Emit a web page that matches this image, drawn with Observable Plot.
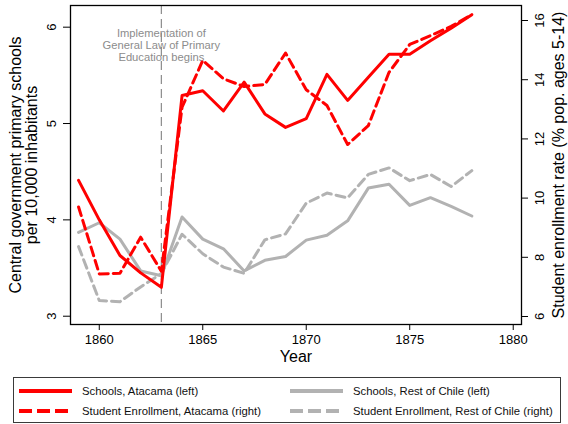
<!DOCTYPE html>
<html><head><meta charset="utf-8">
<script src="https://cdn.jsdelivr.net/npm/d3@7"></script>
<script src="https://cdn.jsdelivr.net/npm/@observablehq/plot@0.6"></script>
<style>
body{margin:0;background:#fff;font-family:"Liberation Sans",Arial,sans-serif;}
#wrap{position:relative;width:568px;height:424px;}
#legend{position:absolute;left:12.5px;top:376.5px;width:548px;height:46px;border:1px solid #3a3a3a;box-sizing:border-box;font-size:11.3px;color:#111;}
.item{position:absolute;display:flex;align-items:center;height:16px;white-space:nowrap;}
.item svg{margin-right:10px;}
</style></head><body>
<div id="wrap"><div id="chart"></div><div id="legend"></div></div>
<script>
const years = [1859,1860,1861,1862,1863,1864,1865,1866,1867,1868,1869,1870,1871,1872,1873,1874,1875,1876,1877,1878];
const schoolsAtacama = [4.41,4.00,3.63,3.45,3.30,5.29,5.34,5.13,5.43,5.10,4.96,5.05,5.51,5.24,5.48,5.72,5.72,5.86,5.99,6.13];
const schoolsRest = [3.87,3.97,3.80,3.47,3.42,4.03,3.80,3.70,3.47,3.58,3.62,3.79,3.84,3.99,4.33,4.37,4.15,4.23,4.14,4.04];
const enrollAtacama = [9.70,7.44,7.46,8.68,7.53,13.07,14.65,14.03,13.77,13.84,14.90,13.66,13.13,11.81,12.45,14.25,15.19,15.49,15.80,16.20];
const enrollRest = [8.36,6.54,6.50,7.00,7.45,8.78,8.12,7.67,7.46,8.59,8.79,9.83,10.17,10.01,10.80,11.02,10.59,10.80,10.39,10.93];
const xTicks = [1860,1865,1870,1875,1880];
const leftTicks = [3,4,5,6];
const rightTicks = [6,8,10,12,14,16];
const eventYear = 1863;
const annotation = "Implementation of\nGeneral Law of Primary\nEducation begins";
const leftTitle = "Central government primary schools\nper 10,000 inhabitants";
const rightTitle = "Student enrollment rate (% pop. ages 5-14)";
const xTitle = "Year";
const leftDomain = [2.914, 6.225];
const rightDomain = [5.730, 16.507];
const seriesNames = ["Schools, Atacama (left)","Student Enrollment, Atacama (right)","Schools, Rest of Chile (left)","Student Enrollment, Rest of Chile (right)"];
const RED = "#ff0000", GRAY = "#b2b2b2", DASH = "9,5", LEGEND_DASH = "13,5";

const toLeft = d3.scaleLinear().domain(rightDomain).range(leftDomain);
const rows = (vals, right) => years.map((year, i) => ({year, v: right ? toLeft(vals[i]) : vals[i]}));

const font = '"Liberation Sans", Arial, sans-serif';
const chart = Plot.plot({
  width: 568, height: 372,
  marginLeft: 70, marginRight: 47, marginTop: 5, marginBottom: 48,
  style: {fontFamily: font, background: "#fff", color: "#000", overflow: "visible"},
  x: {domain: [1858.61, 1880.40]},
  y: {domain: leftDomain},
  marks: [
    Plot.ruleX([eventYear], {stroke: "#8c8c8c", strokeWidth: 1.2, strokeDasharray: "9,5"}),
    Plot.text([eventYear], {x: d => d, text: () => annotation, frameAnchor: "top", lineAnchor: "top", textAnchor: "middle", dy: 23.3, fontSize: 11.2, lineHeight: 1.045, fill: "#8c8c8c"}),
    Plot.line(rows(enrollRest, true), {x: "year", y: "v", stroke: GRAY, strokeWidth: 3, strokeDasharray: DASH, strokeLinejoin: "round"}),
    Plot.line(rows(schoolsRest, false), {x: "year", y: "v", stroke: GRAY, strokeWidth: 3, strokeLinejoin: "round"}),
    Plot.line(rows(enrollAtacama, true), {x: "year", y: "v", stroke: RED, strokeWidth: 3, strokeDasharray: DASH, strokeLinejoin: "round"}),
    Plot.line(rows(schoolsAtacama, false), {x: "year", y: "v", stroke: RED, strokeWidth: 3, strokeLinejoin: "round"}),
    Plot.frame({stroke: "#000", strokeWidth: 1.3}),
    Plot.axisX(xTicks, {tickSize: 6, tickPadding: 4, fontSize: 13, tickFormat: d => String(d), label: null}),
    Plot.axisY(leftTicks, {anchor: "left", tickSize: 7, tickFormat: () => "", label: null}),
    Plot.axisY(rightTicks.map(d => toLeft(d)), {anchor: "right", tickSize: 6, tickFormat: () => "", label: null}),
    Plot.text(leftTicks, {y: d => d, text: d => String(d), frameAnchor: "left", textAnchor: "middle", rotate: -90, dx: -19, fontSize: 13}),
    Plot.text(rightTicks, {y: d => toLeft(d), text: d => String(d), frameAnchor: "right", textAnchor: "middle", rotate: -90, dx: 18.5, fontSize: 13}),
    Plot.text([leftTitle], {frameAnchor: "left", textAnchor: "middle", rotate: -90, dx: -47, fontSize: 16, lineHeight: 1.03}),
    Plot.text([rightTitle], {frameAnchor: "right", textAnchor: "middle", rotate: -90, dx: 37, fontSize: 16}),
    Plot.text([xTitle], {frameAnchor: "bottom", lineAnchor: "top", textAnchor: "middle", dy: 26, fontSize: 16})
  ]
});
document.getElementById("chart").appendChild(chart);

const legendItems = [
  {name: seriesNames[0], color: RED, dash: null, left: 5.5, top: 5.5},
  {name: seriesNames[1], color: RED, dash: LEGEND_DASH, left: 5.5, top: 25.5},
  {name: seriesNames[2], color: GRAY, dash: null, left: 276.5, top: 5.5},
  {name: seriesNames[3], color: GRAY, dash: LEGEND_DASH, left: 276.5, top: 25.5}
];
const legend = document.getElementById("legend");
for (const it of legendItems) {
  const div = document.createElement("div");
  div.className = "item";
  div.style.left = it.left + "px";
  div.style.top = it.top + "px";
  div.innerHTML = `<svg width="53" height="6"><line x1="0" x2="53" y1="3" y2="3" stroke="${it.color}" stroke-width="4" ${it.dash ? `stroke-dasharray="${it.dash}"` : ""}/></svg><span></span>`;
  div.querySelector("span").textContent = it.name;
  legend.appendChild(div);
}
</script>
</body></html>
